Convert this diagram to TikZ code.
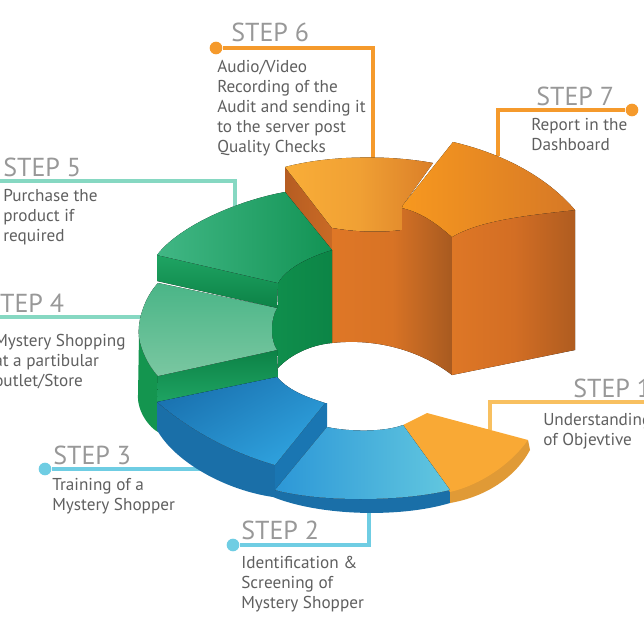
\documentclass[tikz,border=0pt]{standalone}
\usepackage{fontspec}
\setmainfont{PT Sans}
\definecolor{stepgray}{HTML}{989898}
\definecolor{bodygray}{HTML}{5F5F5F}
\definecolor{lorange}{HTML}{F59A2C}
\definecolor{lteal}{HTML}{86D8C2}
\definecolor{lblue}{HTML}{6FCDE3}
\definecolor{lamber}{HTML}{F8C060}
\definecolor{osideA}{HTML}{B65D22}
\definecolor{osideB}{HTML}{C96A25}
\definecolor{osixA}{HTML}{F9AE38}
\definecolor{osixB}{HTML}{DB7F28}
\definecolor{osixM}{HTML}{F0A034}
\definecolor{owallA}{HTML}{DF7726}
\definecolor{owallB}{HTML}{A85A20}
\definecolor{owallM}{HTML}{D87325}
\definecolor{ofrontA}{HTML}{DE7726}
\definecolor{ofrontB}{HTML}{AF5C20}
\definecolor{ofrontM}{HTML}{D36E24}
\definecolor{osevA}{HTML}{F7981F}
\definecolor{osevB}{HTML}{D67826}
\definecolor{gback}{HTML}{14954F}
\definecolor{gwallA}{HTML}{0F8E4C}
\definecolor{gwallB}{HTML}{0C8546}
\definecolor{gfrontA}{HTML}{0C8246}
\definecolor{gfrontB}{HTML}{1FA463}
\definecolor{gfiveA}{HTML}{41B785}
\definecolor{gfiveB}{HTML}{129354}
\definecolor{gfourA}{HTML}{7AC7A1}
\definecolor{gfourB}{HTML}{4AB587}
\definecolor{bband}{HTML}{1A6FA8}
\definecolor{bside}{HTML}{1A76B2}
\definecolor{bthreeA}{HTML}{1A72B0}
\definecolor{bthreeB}{HTML}{2FA2DE}
\definecolor{btwoA}{HTML}{2C97D7}
\definecolor{btwoB}{HTML}{62C7DF}
\definecolor{aoneF}{HTML}{E09A36}
\definecolor{aoneT}{HTML}{F9A935}
\tikzset{
  header/.style={anchor=base west,inner sep=0pt,text=stepgray,font=\fontsize{19.5}{22}\selectfont},
  bodytext/.style={anchor=north west,inner sep=0pt,align=left,text=bodygray,font=\fontsize{12.9}{15}\selectfont},
  leader/.style={line width=2.6pt},
  dotnode/.style={circle,inner sep=0pt,minimum size=9.5pt,fill=#1}
}
\begin{document}
\begin{tikzpicture}[x=0.75pt,y=-0.75pt]
\useasboundingbox (0,0) rectangle (644,644);
% leaders
\node[dotnode=lorange] (d6) at (216,48) {};
\coordinate (c6a) at (373,48); \coordinate (c6b) at (373,160);
\node[dotnode=lorange] (d7) at (632,110) {};
\coordinate (c7a) at (498,110); \coordinate (c7b) at (498,156);
\coordinate (s5) at (-2,181); \coordinate (c5a) at (235,181); \coordinate (c5b) at (235,206);
\coordinate (s4) at (-2,317); \coordinate (c4) at (142,317);
\node[dotnode=lblue] (d3) at (45,469) {};
\coordinate (c3) at (200,469);
\node[dotnode=lblue] (d2) at (233,545) {};
\coordinate (c2a) at (369,545); \coordinate (c2b) at (369,510);
\coordinate (s1) at (646,402); \coordinate (c1a) at (490,402); \coordinate (c1b) at (490,430);
\draw[leader,lorange] (d6) -- (c6a) -- (c6b);
\draw[leader,lorange] (d7) -- (c7a) -- (c7b);
\draw[leader,lteal] (s5) -- (c5a) -- (c5b);
\draw[leader,lteal] (s4) -- (c4);
\draw[leader,lblue] (d3) -- (c3);
\draw[leader,lblue] (d2) -- (c2a) -- (c2b);
\draw[leader,lamber] (s1) -- (c1a) -- (c1b);
% STEP 6 block
\fill[left color=osideA,right color=osideB] (285,167) -- (332,228) -- (332,252) -- (285,192) -- cycle;
\fill[left color=osixA,right color=osixB,middle color=osixM] (285,167) .. controls (330,155) and (390,155) .. (433,163) -- (403,205) -- (402,230) .. controls (380,233) and (355,232) .. (332,228) -- cycle;
% inner orange walls
\fill[left color=owallA,right color=owallB,middle color=owallM] (332,228) .. controls (355,232) and (380,233) .. (402,230) -- (402,208) .. controls (420,212) and (435,222) .. (452,237) -- (452,375) .. controls (420,350) and (375,338) .. (332,343) -- cycle;
% STEP 7 block
\fill[left color=ofrontA,right color=ofrontB,middle color=ofrontM] (452,237) .. controls (480,220) and (530,215) .. (575,210) -- (575,350) -- (452,375) -- cycle;
\fill[left color=osevA,right color=osevB] (453,142) .. controls (500,153) and (545,175) .. (575,210) .. controls (530,215) and (480,220) .. (452,237) .. controls (435,222) and (420,212) .. (402,208) -- (403,205) -- cycle;
% green backdrop at left
\fill[gback] (139,335) .. controls (141,350) and (148,365) .. (158,376) -- (158,432) .. controls (150,428) and (137,412) .. (138,395) -- cycle;
% STEP 5 inner wall
\fill[gwallA] (268,305) rectangle (282,356);
\fill[left color=gwallA,right color=gwallB] (278,283) .. controls (285,270) and (305,258) .. (332,250) -- (332,343) .. controls (310,345) and (290,355) .. (278,368) -- cycle;
% STEP 5 front
\fill[bottom color=gfrontA,top color=gfrontB] (157,255) -- (278,283) -- (277,308) -- (157,281) -- cycle;
% STEP 5 top
\fill[left color=gfiveA,right color=gfiveB] (157,255) .. controls (180,225) and (240,200) .. (285,192) -- (332,250) .. controls (305,258) and (285,270) .. (278,283) -- cycle;
% STEP 4 front
\fill[bottom color=gfrontB,top color=gfrontA] (158,376) -- (277,350) -- (278,378) -- (157,403) -- cycle;
% STEP 4 top
\fill[top color=gfourB,bottom color=gfourA] (158,283) -- (277,308) .. controls (270,320) and (270,340) .. (277,350) -- (158,376) .. controls (148,365) and (141,350) .. (139,337) .. controls (137,320) and (145,297) .. (158,283) -- cycle;
% STEP 2 and 3 dark band
\fill[bband] (157,402) .. controls (190,430) and (230,452) .. (275,465) -- (275,490) .. controls (320,502) and (400,502) .. (450,490) -- (450,503) .. controls (400,518) and (320,516) .. (273,497) .. controls (225,490) and (175,462) .. (157,430) -- cycle;
% STEP 3 side
\fill[bside] (275,465) -- (325,403) -- (327,403) -- (327,427) -- (275,490) -- cycle;
% STEP 3 top
\fill[top color=bthreeA,bottom color=bthreeB,shading angle=30] (157,402) -- (277,377) .. controls (290,392) and (310,398) .. (325,403) -- (275,465) .. controls (230,452) and (190,430) .. (157,402) -- cycle;
% STEP 1
\fill[aoneF] (528,440) -- (530,450) .. controls (515,478) and (485,497) .. (450,503) -- (450,490) -- cycle;
\fill[aoneT] (403,425) -- (427,413) -- (528,440) .. controls (510,465) and (480,485) .. (450,492) -- cycle;
% STEP 2 top
\fill[left color=btwoA,right color=btwoB] (327,427) .. controls (350,432) and (385,432) .. (403,425) -- (450,490) .. controls (400,502) and (320,502) .. (275,490) -- cycle;
% labels
\node[header] (h6) at (231,41) {STEP 6};
\node[header] (h7) at (536,105) {STEP 7};
\node[header] (h5) at (3,176) {STEP 5};
\node[header] (h4) at (-14,312) {STEP 4};
\node[header] (h3) at (53,464) {STEP 3};
\node[header] (h2) at (241,539) {STEP 2};
\node[header] (h1) at (573,397) {STEP 1};
\node[bodytext] (t6) at (217,60) {Audio/Video\\Recording of the\\Audit and sending it\\to the server post\\Quality Checks};
\node[bodytext] (t7) at (531,118) {Report in the\\Dashboard};
\node[bodytext] (t5) at (3,189) {Purchase the\\product if\\required};
\node[bodytext] (t4) at (-6,334) {Mystery Shopping\\at a partibular\\outlet/Store};
\node[bodytext] (t3) at (52,478) {Training of a\\Mystery Shopper};
\node[bodytext] (t2) at (241,556) {Identification \&\\Screening of\\Mystery Shopper};
\node[bodytext] (t1) at (543,413) {Understanding\\of Objevtive};
\end{tikzpicture}
\end{document}
